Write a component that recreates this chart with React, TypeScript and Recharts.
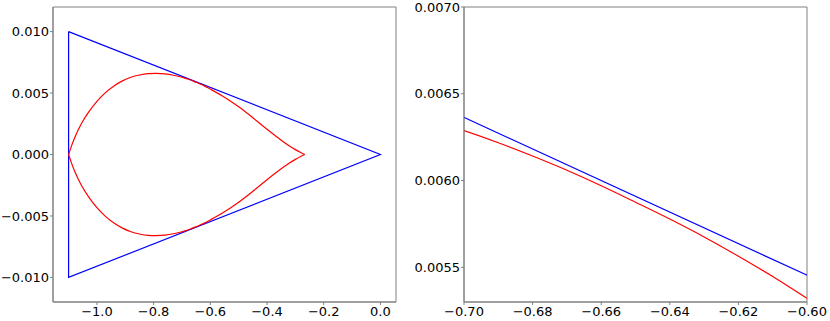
import React from "react";
import { Line, LineChart, ReferenceArea, XAxis, YAxis } from "recharts";

// blue triangle outline
const blueX = [-1.1, 0, -1.1, -1.1];
const blueY = [0.01, 0, -0.01, 0.01];

// red teardrop: x positions shared by the upper and lower arcs
const redX = [
  -1.1, -1.09, -1.077, -1.055, -1.03, -1.0, -0.97, -0.94, -0.91, -0.88, -0.85,
  -0.82, -0.79, -0.76, -0.73, -0.7, -0.69, -0.68, -0.67, -0.66, -0.65, -0.64,
  -0.63, -0.62, -0.61, -0.6, -0.55, -0.5, -0.45, -0.4, -0.35, -0.325, -0.3,
  -0.283, -0.267,
];
const redUpperY = [
  0, 0.00068, 0.00145, 0.0025, 0.00342, 0.00432, 0.00503, 0.00558, 0.00599,
  0.00628, 0.00647, 0.00658, 0.0066, 0.00656, 0.00645, 0.006288, 0.006218,
  0.006141, 0.006059, 0.00597, 0.005875, 0.005778, 0.005675, 0.005564,
  0.005447, 0.005321, 0.004659, 0.003877, 0.002989, 0.002053, 0.001165,
  0.000757, 0.000397, 0.000176, 0,
];
const redLowerY = [
  0, -0.00068, -0.00145, -0.0025, -0.00342, -0.00432, -0.00503, -0.00558,
  -0.00599, -0.00628, -0.00647, -0.00658, -0.0066, -0.00656, -0.00645,
  -0.006288, -0.006218, -0.006141, -0.006059, -0.00597, -0.005875, -0.005778,
  -0.005675, -0.005564, -0.005447, -0.005321, -0.004659, -0.003877,
  -0.002989, -0.002053, -0.001165, -0.000757, -0.000397, -0.000176, 0,
];

const leftXTicks = [-1.0, -0.8, -0.6, -0.4, -0.2, 0.0];
const leftYTicks = [-0.01, -0.005, 0, 0.005, 0.01];
const rightXTicks = [-0.7, -0.68, -0.66, -0.64, -0.62, -0.6];
const rightYTicks = [0.0055, 0.006, 0.0065, 0.007];

const blueData = blueX.map((x, i) => ({ x, y: blueY[i] }));
const redUpper = redX.map((x, i) => ({ x, y: redUpperY[i] }));
const redLower = redX.map((x, i) => ({ x, y: redLowerY[i] }));

const fmt = (d: number) => (v: number) => {
  const s = v.toFixed(d);
  return s.startsWith("-") ? "\u2212" + s.slice(1) : s;
};

const tickStyle = { fill: "#000", fontSize: 13, fontFamily: "DejaVu Sans" };
const spine = "#808080";

function Panel({
  width,
  marginRight,
  yWidth,
  xDomain,
  yDomain,
  xTicks,
  yTicks,
  xDec,
  yDec,
}: {
  width: number;
  marginRight: number;
  yWidth: number;
  xDomain: [number, number];
  yDomain: [number, number];
  xTicks: number[];
  yTicks: number[];
  xDec: number;
  yDec: number;
}) {
  return (
    <LineChart
      width={width}
      height={321}
      margin={{ top: 7, right: marginRight, left: 0, bottom: 0 }}
    >
      <XAxis
        type="number"
        dataKey="x"
        domain={xDomain}
        ticks={xTicks}
        interval={0}
        allowDataOverflow
        tickFormatter={fmt(xDec)}
        tick={tickStyle}
        tickSize={3}
        tickMargin={2}
        height={19}
        stroke={spine}
      />
      <YAxis
        type="number"
        dataKey="y"
        domain={yDomain}
        ticks={yTicks}
        interval={0}
        allowDataOverflow
        tickFormatter={fmt(yDec)}
        tick={tickStyle}
        tickSize={3}
        tickMargin={1}
        width={yWidth}
        stroke={spine}
      />
      <ReferenceArea
        x1={xDomain[0]}
        x2={xDomain[1]}
        y1={yDomain[0]}
        y2={yDomain[1]}
        fill="none"
        stroke={spine}
        strokeWidth={1}
        ifOverflow="visible"
      />
      <Line
        data={blueData}
        dataKey="y"
        type="linear"
        stroke="#0000ff"
        strokeWidth={1.2}
        dot={false}
        isAnimationActive={false}
      />
      <Line
        data={redUpper}
        dataKey="y"
        type="monotoneX"
        stroke="#ff0000"
        strokeWidth={1.2}
        dot={false}
        isAnimationActive={false}
      />
      <Line
        data={redLower}
        dataKey="y"
        type="monotoneX"
        stroke="#ff0000"
        strokeWidth={1.2}
        dot={false}
        isAnimationActive={false}
      />
    </LineChart>
  );
}

export default function App() {
  return (
    <div
      style={{
        position: "absolute",
        left: 0,
        top: 0,
        width: 830,
        height: 321,
        background: "#fff",
        display: "flex",
      }}
    >
      <Panel
        width={400}
        marginRight={4}
        yWidth={53}
        xDomain={[-1.155, 0.055]}
        yDomain={[-0.012, 0.012]}
        xTicks={leftXTicks}
        yTicks={leftYTicks}
        xDec={1}
        yDec={3}
      />
      <Panel
        width={430}
        marginRight={23}
        yWidth={64}
        xDomain={[-0.7, -0.6]}
        yDomain={[0.0053, 0.007]}
        xTicks={rightXTicks}
        yTicks={rightYTicks}
        xDec={2}
        yDec={4}
      />
    </div>
  );
}
